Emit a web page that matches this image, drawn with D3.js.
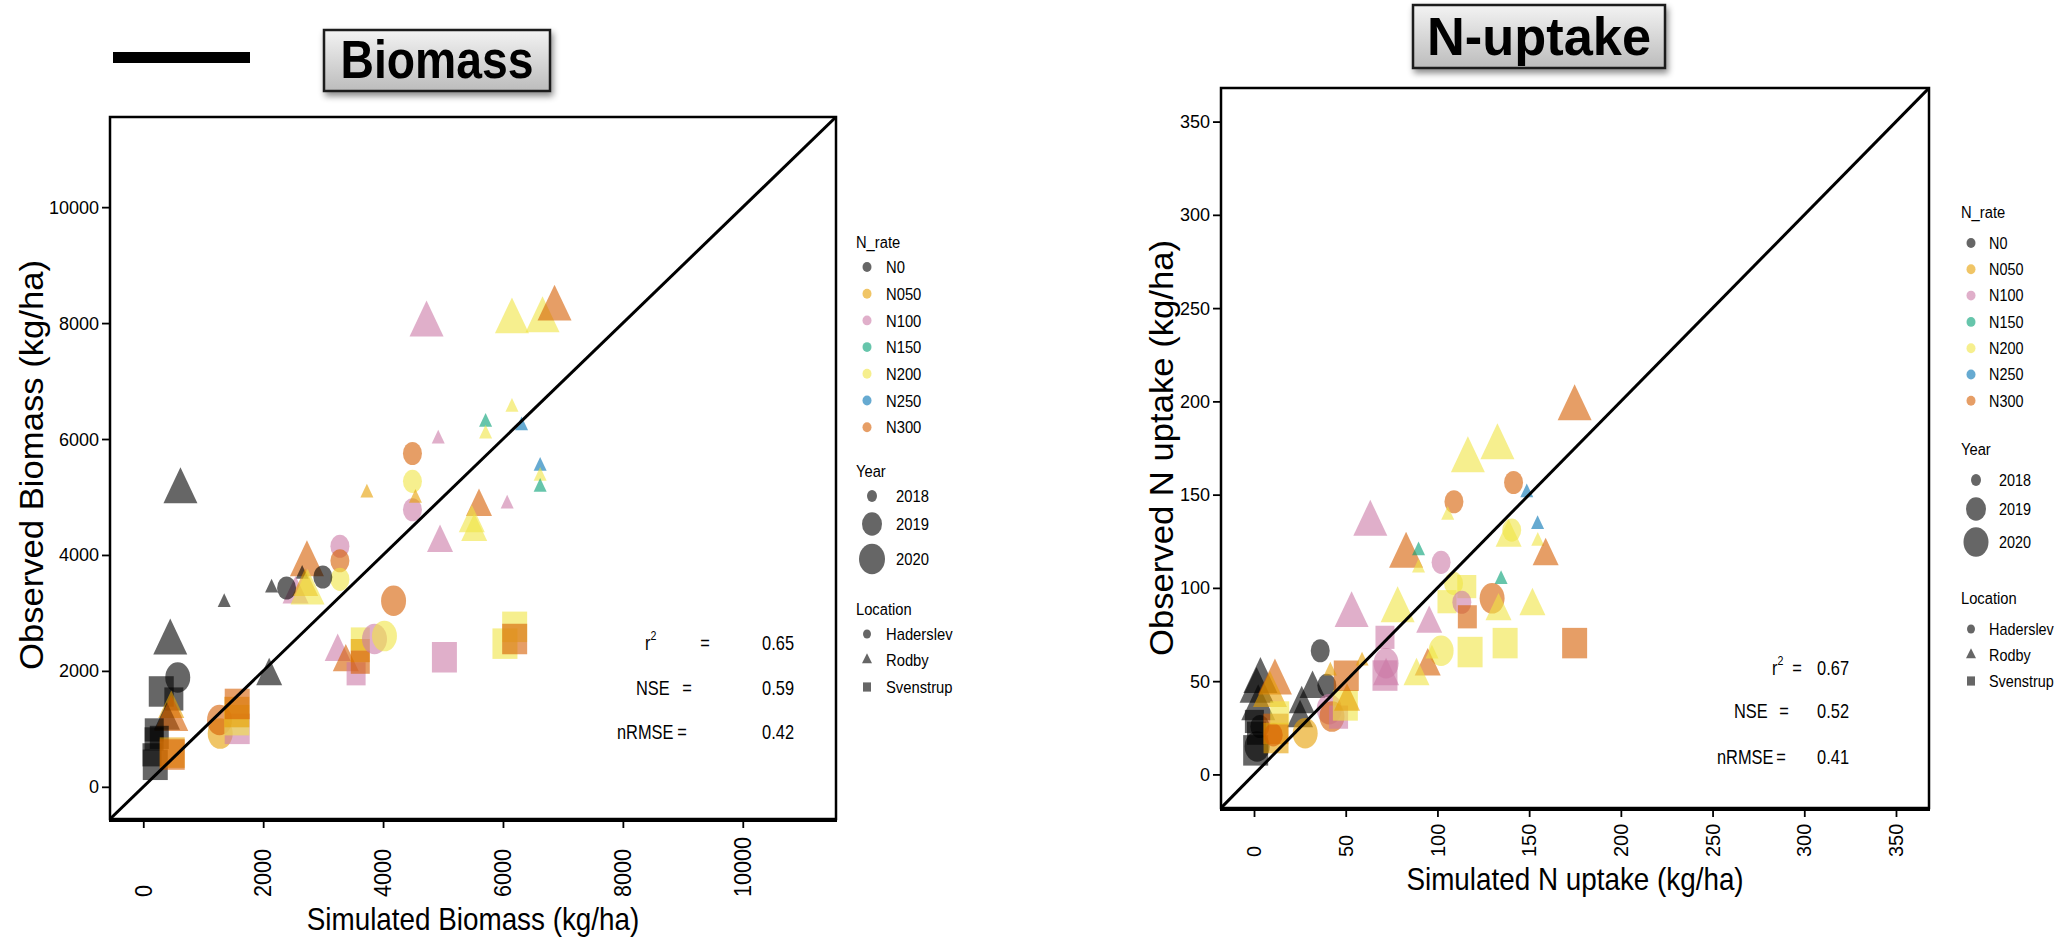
<!DOCTYPE html>
<html>
<head>
<meta charset="utf-8">
<script src="https://cdn.jsdelivr.net/npm/d3@7"></script>
<style>
  body { margin: 0; background: #fff; }
  svg { display: block; }
</style>
</head>
<body>
<script>
// categories
var rates = ["N0", "N050", "N100", "N150", "N200", "N250", "N300"];
var rateColors = ["#000000", "#E69F00", "#CC79A7", "#009E73", "#F0E442", "#0072B2", "#D55E00"];
var years = [2018, 2019, 2020];
var locations = ["Haderslev", "Rodby", "Svenstrup"];
var locCodes = ["H", "R", "S"];

// tick labels
var biomassTicks = [0, 2000, 4000, 6000, 8000, 10000];
var uptakeTicks = [0, 50, 100, 150, 200, 250, 300, 350];

// goodness of fit
var statNames = ["r", "NSE", "nRMSE"];
var biomassStats = ["0.65", "0.59", "0.42"];
var uptakeStats = ["0.67", "0.52", "0.41"];

// [simulated, observed, N_rate, year, location]
var biomassPts = [
  [620, 5100, "N0", 2020, "R"],
  [4725, 7975, "N100", 2020, "R"],
  [6150, 8030, "N200", 2020, "R"],
  [6660, 8050, "N200", 2020, "R"],
  [6860, 8250, "N300", 2020, "R"],
  [6150, 6550, "N200", 2018, "R"],
  [5710, 6290, "N150", 2018, "R"],
  [6310, 6230, "N250", 2018, "R"],
  [5710, 6090, "N200", 2018, "R"],
  [4920, 6000, "N100", 2018, "R"],
  [4490, 5750, "N300", 2019, "H"],
  [4490, 5270, "N200", 2019, "H"],
  [4490, 4780, "N100", 2019, "H"],
  [4540, 4980, "N050", 2018, "R"],
  [3730, 5070, "N050", 2018, "R"],
  [6620, 5530, "N250", 2018, "R"],
  [6620, 5360, "N200", 2018, "R"],
  [6620, 5170, "N150", 2018, "R"],
  [5600, 4830, "N300", 2019, "R"],
  [6070, 4880, "N100", 2018, "R"],
  [5480, 4550, "N200", 2019, "R"],
  [5520, 4400, "N200", 2019, "R"],
  [4950, 4210, "N100", 2019, "R"],
  [3280, 4150, "N100", 2019, "H"],
  [3280, 3900, "N300", 2019, "H"],
  [3280, 3580, "N200", 2019, "H"],
  [2730, 3840, "N300", 2020, "R"],
  [2650, 3670, "N0", 2018, "R"],
  [2540, 3320, "N100", 2019, "R"],
  [2700, 3450, "N050", 2019, "R"],
  [2740, 3350, "N200", 2020, "R"],
  [2390, 3430, "N0", 2019, "H"],
  [2995, 3620, "N0", 2019, "H"],
  [2140, 3430, "N0", 2018, "R"],
  [1350, 3180, "N0", 2018, "R"],
  [450, 2490, "N0", 2020, "R"],
  [575, 1885, "N0", 2020, "H"],
  [300, 1645, "N0", 2020, "S"],
  [510, 1515, "N0", 2019, "S"],
  [467, 1346, "N050", 2019, "R"],
  [395, 1142, "N0", 2019, "R"],
  [467, 1171, "N300", 2020, "R"],
  [183, 982, "N0", 2019, "S"],
  [180, 827, "N0", 2019, "S"],
  [267, 853, "N0", 2019, "S"],
  [145, 552, "N0", 2019, "S"],
  [200, 380, "N0", 2020, "S"],
  [483, 590, "N050", 2020, "S"],
  [483, 557, "N300", 2020, "S"],
  [1283, 918, "N050", 2020, "H"],
  [1272, 1154, "N300", 2020, "H"],
  [1567, 1000, "N100", 2020, "S"],
  [1560, 1150, "N200", 2020, "S"],
  [1560, 1290, "N050", 2020, "S"],
  [1567, 1430, "N300", 2020, "S"],
  [2100, 1910, "N0", 2019, "R"],
  [3243, 2330, "N100", 2019, "R"],
  [3378, 2150, "N300", 2019, "R"],
  [3550, 1950, "N100", 2019, "S"],
  [3620, 2550, "N200", 2019, "S"],
  [3620, 2350, "N050", 2019, "S"],
  [3620, 2150, "N300", 2019, "S"],
  [3857, 2550, "N100", 2020, "H"],
  [4023, 2600, "N200", 2020, "H"],
  [4175, 3210, "N300", 2020, "H"],
  [5023, 2235, "N100", 2020, "S"],
  [6033, 2470, "N200", 2020, "S"],
  [6195, 2760, "N200", 2020, "S"],
  [6195, 2550, "N300", 2020, "S"]
];

var uptakePts = [
  [174.8, 196.3, "N300", 2020, "R"],
  [132.7, 175.4, "N200", 2020, "R"],
  [116.6, 168.4, "N200", 2020, "R"],
  [141.5, 156.5, "N300", 2019, "H"],
  [109.0, 146.2, "N300", 2019, "H"],
  [105.6, 139.0, "N200", 2018, "R"],
  [148.7, 151.0, "N250", 2018, "R"],
  [154.6, 134.0, "N250", 2018, "R"],
  [140.5, 131.0, "N200", 2019, "H"],
  [138.8, 127.0, "N200", 2019, "R"],
  [154.7, 125.0, "N200", 2018, "R"],
  [159.0, 117.0, "N300", 2019, "R"],
  [63.4, 134.4, "N100", 2020, "R"],
  [82.9, 117.2, "N300", 2020, "R"],
  [89.7, 120.0, "N150", 2018, "R"],
  [89.7, 110.7, "N200", 2018, "R"],
  [102.0, 113.7, "N100", 2019, "H"],
  [134.7, 104.6, "N150", 2018, "R"],
  [108.8, 102.4, "N200", 2019, "H"],
  [116.0, 100.7, "N200", 2019, "S"],
  [105.2, 92.6, "N200", 2019, "S"],
  [113.3, 92.3, "N100", 2019, "H"],
  [116.3, 84.5, "N300", 2019, "S"],
  [129.8, 94.4, "N300", 2020, "H"],
  [133.3, 87.5, "N200", 2019, "R"],
  [151.8, 90.3, "N200", 2019, "R"],
  [78.3, 88.0, "N200", 2020, "R"],
  [53.2, 85.4, "N100", 2020, "R"],
  [95.5, 80.8, "N100", 2019, "R"],
  [117.8, 65.6, "N200", 2020, "S"],
  [136.9, 70.4, "N200", 2020, "S"],
  [174.8, 70.4, "N300", 2020, "S"],
  [102.0, 66.3, "N200", 2020, "H"],
  [94.7, 58.0, "N300", 2019, "R"],
  [88.6, 52.7, "N200", 2019, "R"],
  [97.0, 64.6, "N200", 2018, "R"],
  [71.4, 53.0, "N100", 2020, "S"],
  [72.0, 59.6, "N100", 2020, "H"],
  [71.4, 73.5, "N100", 2019, "S"],
  [72.0, 52.7, "N100", 2019, "R"],
  [36.1, 66.3, "N0", 2019, "H"],
  [39.7, 47.7, "N0", 2019, "H"],
  [31.9, 45.9, "N0", 2019, "R"],
  [26.0, 37.7, "N0", 2019, "R"],
  [25.1, 30.2, "N0", 2019, "R"],
  [27.9, 22.1, "N050", 2020, "H"],
  [41.0, 35.0, "N100", 2020, "H"],
  [42.5, 31.0, "N300", 2020, "H"],
  [46.1, 30.7, "N100", 2019, "S"],
  [49.8, 37.0, "N200", 2020, "S"],
  [50.7, 39.0, "N050", 2019, "R"],
  [50.3, 52.9, "N300", 2020, "S"],
  [58.9, 60.8, "N050", 2018, "R"],
  [41.6, 55.5, "N050", 2018, "R"],
  [3.5, 50.1, "N0", 2020, "R"],
  [1.4, 44.8, "N0", 2020, "R"],
  [2.3, 35.5, "N0", 2020, "R"],
  [0.9, 12.9, "N0", 2020, "S"],
  [0.2, 28.4, "N0", 2019, "S"],
  [1.35, 22.1, "N0", 2019, "S"],
  [1.7, 15.0, "N0", 2020, "H"],
  [3.2, 25.7, "N0", 2019, "H"],
  [11.4, 49.3, "N300", 2020, "R"],
  [8.7, 42.6, "N050", 2020, "R"],
  [11.9, 24.4, "N300", 2020, "S"],
  [12.0, 19.5, "N050", 2020, "S"],
  [10.5, 21.2, "N300", 2019, "H"],
  [14.0, 33.0, "N200", 2019, "S"]
];

var W = 2062, H = 940;
var FONT = "'Liberation Sans', Arial, sans-serif";
var STRETCH = 1.22;   // markers are a bit taller than wide in the original

var svg = d3.select("body").append("svg")
    .attr("width", W)
    .attr("height", H);

var defs = svg.append("defs");
var grad = defs.append("linearGradient")
    .attr("id", "boxgrad")
    .attr("x1", 0).attr("y1", 0).attr("x2", 0).attr("y2", 1);
grad.append("stop").attr("offset", "0%").attr("stop-color", "#f3f3f3");
grad.append("stop").attr("offset", "100%").attr("stop-color", "#bcbcbc");
var shadow = defs.append("filter").attr("id", "shadow")
    .attr("x", "-10%").attr("y", "-20%").attr("width", "130%").attr("height", "160%");
shadow.append("feDropShadow")
    .attr("dx", 2).attr("dy", 4).attr("stdDeviation", 3)
    .attr("flood-color", "#000").attr("flood-opacity", 0.45);

var color = d3.scaleOrdinal().domain(rates).range(rateColors);

// screen width of each marker by location and year
var markW = {
  H: [10, 19, 25],
  R: [13, 26, 34],
  S: [10, 19, 25]
};

function markPath(loc, w) {
  if (loc === "H") return d3.symbol(d3.symbolCircle, Math.PI * w * w / 4)();
  if (loc === "S") return d3.symbol(d3.symbolSquare, w * w)();
  return d3.symbol(d3.symbolTriangle, Math.sqrt(3) * w * w / 4)();
}

function txt(g, x, y, str, o) {
  o = o || {};
  var t = "translate(" + x + "," + y + ")";
  if (o.rotate) t += " rotate(" + o.rotate + ")";
  t += " scale(" + (o.sx || 1) + "," + (o.sy || 1) + ")";
  return g.append("text")
      .attr("transform", t)
      .attr("text-anchor", o.anchor || "start")
      .attr("dy", o.dy || null)
      .style("font-family", o.family || FONT)
      .style("font-size", (o.size || 18) + "px")
      .style("font-weight", o.weight || "normal")
      .style("fill", "#000")
      .text(str);
}

function titleBox(x0, y0, x1, y1, label, textW) {
  svg.append("rect")
      .attr("x", x0).attr("y", y0)
      .attr("width", x1 - x0).attr("height", y1 - y0)
      .attr("fill", "url(#boxgrad)")
      .attr("stroke", "#1a1a1a")
      .attr("stroke-width", 2.5)
      .attr("filter", "url(#shadow)");
  svg.append("text")
      .attr("x", (x0 + x1) / 2)
      .attr("y", y1 - 13)
      .attr("text-anchor", "middle")
      .attr("textLength", textW)
      .attr("lengthAdjust", "spacingAndGlyphs")
      .style("font-family", FONT)
      .style("font-weight", "bold")
      .style("font-size", "54px")
      .text(label);
}

function panel(cfg) {
  var x = d3.scaleLinear().domain(cfg.domain).range([cfg.x0, cfg.x1]);
  var y = d3.scaleLinear().domain(cfg.domain).range([cfg.y1, cfg.y0]);
  var g = svg.append("g");

  var clipId = "clip" + cfg.id;
  defs.append("clipPath").attr("id", clipId)
    .append("rect")
      .attr("x", cfg.x0).attr("y", cfg.y0)
      .attr("width", cfg.x1 - cfg.x0).attr("height", cfg.y1 - cfg.y0);

  // points
  g.append("g").attr("clip-path", "url(#" + clipId + ")")
    .selectAll("path")
    .data(cfg.points)
    .enter()
    .append("path")
      .attr("d", function(d) { return markPath(d[4], markW[d[4]][years.indexOf(d[3])]); })
      .attr("transform", function(d) {
        return "translate(" + x(d[0]) + "," + y(d[1]) + ") scale(1," + STRETCH + ")";
      })
      .attr("fill", function(d) { return color(d[2]); })
      .attr("fill-opacity", 0.6);

  // 1:1 line
  g.append("line")
      .attr("clip-path", "url(#" + clipId + ")")
      .attr("x1", x(cfg.domain[0])).attr("y1", y(cfg.domain[0]))
      .attr("x2", x(cfg.domain[1])).attr("y2", y(cfg.domain[1]))
      .attr("stroke", "#000")
      .attr("stroke-width", 3);

  // frame
  g.append("rect")
      .attr("x", cfg.x0).attr("y", cfg.y0)
      .attr("width", cfg.x1 - cfg.x0).attr("height", cfg.y1 - cfg.y0)
      .attr("fill", "none")
      .attr("stroke", "#000")
      .attr("stroke-width", 2.5);
  g.append("line")
      .attr("x1", cfg.x0 - 1).attr("x2", cfg.x1 + 1)
      .attr("y1", cfg.y1 + 1).attr("y2", cfg.y1 + 1)
      .attr("stroke", "#000").attr("stroke-width", 4);

  // y axis
  var yAxis = g.append("g")
      .attr("transform", "translate(" + cfg.x0 + ",0)")
      .call(d3.axisLeft(y).tickValues(cfg.ticks).tickSize(8).tickFormat(""));
  yAxis.select(".domain").remove();
  yAxis.selectAll("line").attr("stroke-width", 1.8);
  cfg.ticks.forEach(function(t) {
    txt(g, cfg.x0 - 11, y(t) + 6.5, String(t), { size: 18, anchor: "end" });
  });

  // x axis
  var xAxis = g.append("g")
      .attr("transform", "translate(0," + (cfg.y1 + 2) + ")")
      .call(d3.axisBottom(x).tickValues(cfg.ticks).tickSize(7).tickFormat(""));
  xAxis.select(".domain").remove();
  xAxis.selectAll("line").attr("stroke-width", 1.8);
  cfg.ticks.forEach(function(t) {
    txt(g, x(t), cfg.xLabBottom, String(t), {
      size: cfg.xLabSize, rotate: -90, sx: cfg.xLabScale, dy: "0.36em"
    });
  });

  // axis titles
  txt(g, (cfg.x0 + cfg.x1) / 2, cfg.xTitleY, cfg.xTitle, { size: 32, anchor: "middle", sx: 0.87 });
  txt(g, cfg.yTitleX, cfg.yTitleY, cfg.yTitle, { size: 33, anchor: "middle", rotate: -90, sx: 1.05 });

  // stats
  cfg.stats.forEach(function(v, i) {
    var by = cfg.statY[i];
    var s = cfg.statPos[i];
    var t = txt(g, s[0], by, statNames[i], { size: 20, sx: 0.82 });
    if (i === 0) {
      t.append("tspan").attr("dy", -10).style("font-size", "13px").text("2");
    }
    txt(g, s[1], by, "=", { size: 20, sx: 0.82, anchor: "middle" });
    txt(g, cfg.statValX, by, v, { size: 20, sx: 0.82, anchor: "end" });
  });
}

function legend(cfg) {
  var g = svg.append("g");
  txt(g, cfg.x, cfg.rateTitleY, "N_rate", { size: cfg.titleSize, sx: 0.92 });
  rates.forEach(function(r, i) {
    var cy = cfg.rateY0 + i * cfg.rateStep;
    g.append("path")
        .attr("d", markPath("H", 9))
        .attr("transform", "translate(" + cfg.dotX + "," + cy + ") scale(1,1.1)")
        .attr("fill", color(r))
        .attr("fill-opacity", 0.6);
    txt(g, cfg.textX, cy + cfg.itemSize * 0.36, r, { size: cfg.itemSize, sx: cfg.itemSx });
  });

  txt(g, cfg.x, cfg.yearTitleY, "Year", { size: cfg.titleSize, sx: 0.92 });
  years.forEach(function(yr, i) {
    var cy = cfg.yearY[i];
    g.append("path")
        .attr("d", markPath("H", cfg.yearW[i]))
        .attr("transform", "translate(" + cfg.yearDotX + "," + cy + ") scale(1,1.18)")
        .attr("fill", "#000")
        .attr("fill-opacity", 0.6);
    txt(g, cfg.yearTextX, cy + cfg.itemSize * 0.36, String(yr), { size: cfg.itemSize, sx: cfg.itemSx });
  });

  txt(g, cfg.x, cfg.locTitleY, "Location", { size: cfg.titleSize, sx: 0.92 });
  locations.forEach(function(l, i) {
    var cy = cfg.locY[i];
    g.append("path")
        .attr("d", markPath(locCodes[i], locCodes[i] === "R" ? 10 : 8))
        .attr("transform", "translate(" + cfg.dotX + "," + cy + ") scale(1,1.15)")
        .attr("fill", "#000")
        .attr("fill-opacity", 0.6);
    txt(g, cfg.textX, cy + cfg.itemSize * 0.36, l, { size: cfg.itemSize, sx: cfg.itemSx });
  });
}

// header decorations
svg.append("rect")
    .attr("x", 113).attr("y", 52)
    .attr("width", 137).attr("height", 11)
    .attr("fill", "#000");
titleBox(324, 30, 550, 91, "Biomass", 193);
titleBox(1413, 5, 1665, 68, "N-uptake", 224);

panel({
  id: "bio",
  domain: [-555, 11555],
  x0: 110, x1: 836, y0: 117, y1: 819,
  ticks: biomassTicks,
  points: biomassPts,
  xLabBottom: 897, xLabSize: 23, xLabScale: 0.94,
  xTitle: "Simulated Biomass (kg/ha)", xTitleY: 930,
  yTitle: "Observed Biomass (kg/ha)", yTitleX: 43, yTitleY: 465,
  stats: biomassStats,
  statY: [650, 695, 739],
  statPos: [[645, 705], [636, 687], [617, 682]],
  statValX: 794
});

panel({
  id: "up",
  domain: [-18, 368],
  x0: 1221, x1: 1929, y0: 88, y1: 808,
  ticks: uptakeTicks,
  points: uptakePts,
  xLabBottom: 857, xLabSize: 20, xLabScale: 1.0,
  xTitle: "Simulated N uptake (kg/ha)", xTitleY: 890,
  yTitle: "Observed N uptake (kg/ha)", yTitleX: 1173, yTitleY: 448,
  stats: uptakeStats,
  statY: [675, 718, 764],
  statPos: [[1772, 1797], [1734, 1784], [1717, 1781]],
  statValX: 1849
});

legend({
  x: 856, dotX: 867, textX: 886,
  titleSize: 16, itemSize: 17, itemSx: 0.87,
  rateTitleY: 248, rateY0: 267, rateStep: 26.7,
  yearTitleY: 477, yearY: [496, 524, 559], yearW: [10, 20, 26],
  yearDotX: 872, yearTextX: 896,
  locTitleY: 615, locY: [634, 660, 687]
});

legend({
  x: 1961, dotX: 1971, textX: 1989,
  titleSize: 16, itemSize: 16, itemSx: 0.9,
  rateTitleY: 218, rateY0: 243, rateStep: 26.3,
  yearTitleY: 455, yearY: [480, 509, 542], yearW: [10, 20, 25],
  yearDotX: 1976, yearTextX: 1999,
  locTitleY: 604, locY: [629, 655, 681]
});
</script>
</body>
</html>
